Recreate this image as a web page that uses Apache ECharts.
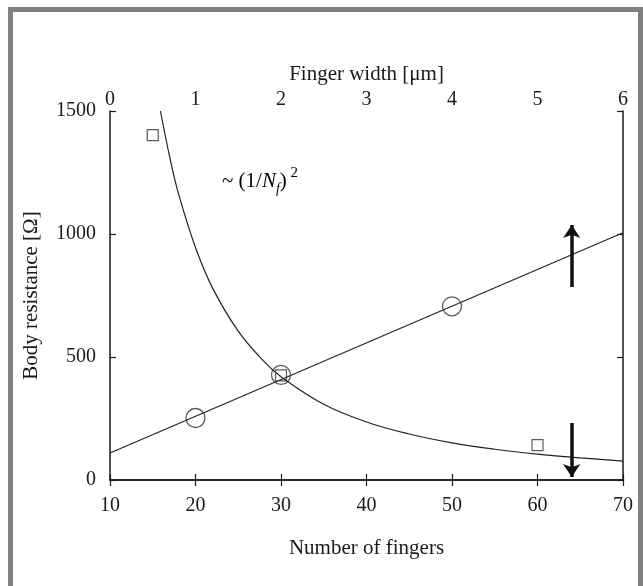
<!DOCTYPE html>
<html>
<head>
<meta charset="utf-8">
<script src="https://cdn.jsdelivr.net/npm/echarts@6/dist/echarts.min.js"></script>
<style>
html,body{margin:0;padding:0;background:#fff;}
#c{width:643px;height:586px;}
</style>
</head>
<body>
<div id="c"></div>
<script>
// ---- data ----
var fingerTicks = [10, 20, 30, 40, 50, 60, 70];
var widthTicks = [0, 1, 2, 3, 4, 5, 6];
var resistanceTicks = [0, 500, 1000, 1500];

// circles: measured vs finger width [um]
var circleWidth = [1, 2, 4];
var circleRes = [252, 427, 706];
// linear fit vs finger width
var lineWidth = [0, 6];
var lineRes = [110, 1005];

// squares: measured vs number of fingers
var squareFingers = [15, 30, 60];
var squareRes = [1402, 425, 142];
// ~(1/Nf)^2 curve vs number of fingers
var curveFingers = [15.9, 17, 18, 20, 22, 25, 28, 30, 35, 40, 45, 50, 55, 60, 65, 70];
var curveRes = [1500, 1310, 1165, 945, 780, 605, 482, 420, 308, 236, 187, 151, 125, 105, 90, 77];

// arrows (number of fingers, resistance)
var arrowUp = [[64, 785], [64, 1037]];
var arrowDown = [[64, 232], [64, 12]];

function zip(a, b) { return a.map(function (v, i) { return [v, b[i]]; }); }
function plain(v) { return String(v); }

var font = '"Liberation Serif", "Times New Roman", serif';
var axisColor = '#1a1a1a';

var chart = echarts.init(document.getElementById('c'), null, { renderer: 'canvas' });

var option = {
  backgroundColor: '#ffffff',
  animation: false,
  textStyle: { fontFamily: font, color: '#1a1a1a' },
  grid: { left: 110, right: 20, top: 111, bottom: 106, containLabel: false },
  xAxis: [
    {
      type: 'value', position: 'bottom', min: fingerTicks[0], max: fingerTicks[fingerTicks.length - 1], interval: 10,
      name: 'Number of fingers', nameLocation: 'middle', nameGap: 58,
      nameTextStyle: { fontFamily: font, fontSize: 21, color: '#1a1a1a' },
      axisLine: { show: true, lineStyle: { color: axisColor, width: 1.5 } },
      axisTick: { show: true, inside: true, length: 6, lineStyle: { color: axisColor, width: 1.2 } },
      axisLabel: { fontFamily: font, fontSize: 20, color: '#1a1a1a', margin: 16, formatter: plain },
      splitLine: { show: false }
    },
    {
      type: 'value', position: 'top', min: widthTicks[0], max: widthTicks[widthTicks.length - 1], interval: 1,
      name: 'Finger width [μm]', nameLocation: 'middle', nameGap: 24,
      nameTextStyle: { fontFamily: font, fontSize: 21, color: '#1a1a1a' },
      axisLine: { show: true, lineStyle: { color: axisColor, width: 1.5 } },
      axisTick: { show: true, inside: true, length: 6, lineStyle: { color: axisColor, width: 1.2 } },
      axisLabel: { fontFamily: font, fontSize: 20, color: '#1a1a1a', margin: 1, formatter: plain },
      splitLine: { show: false }
    }
  ],
  yAxis: [
    {
      type: 'value', position: 'left', min: resistanceTicks[0], max: resistanceTicks[resistanceTicks.length - 1], interval: 500,
      name: 'Body resistance [Ω]', nameLocation: 'middle', nameGap: 68, nameRotate: 90,
      nameTextStyle: { fontFamily: font, fontSize: 21, color: '#1a1a1a' },
      axisLine: { show: true, lineStyle: { color: axisColor, width: 1.5 } },
      axisTick: { show: true, inside: true, length: 6, lineStyle: { color: axisColor, width: 1.2 } },
      axisLabel: { fontFamily: font, fontSize: 20, color: '#1a1a1a', margin: 14, formatter: plain },
      splitLine: { show: false }
    },
    {
      type: 'value', position: 'right', min: resistanceTicks[0], max: resistanceTicks[resistanceTicks.length - 1], interval: 500,
      axisLine: { show: true, lineStyle: { color: axisColor, width: 1.5 } },
      axisTick: { show: true, inside: true, length: 6, lineStyle: { color: axisColor, width: 1.2 } },
      axisLabel: { show: false },
      splitLine: { show: false }
    }
  ],
  series: [
    {
      type: 'line', xAxisIndex: 1, yAxisIndex: 0, data: zip(lineWidth, lineRes),
      showSymbol: false, symbol: 'none', lineStyle: { color: '#222', width: 1.2 }, z: 2
    },
    {
      type: 'line', xAxisIndex: 0, yAxisIndex: 0, data: zip(curveFingers, curveRes),
      smooth: 0.4, showSymbol: false, symbol: 'none', lineStyle: { color: '#222', width: 1.2 }, z: 2
    },
    {
      type: 'scatter', xAxisIndex: 1, yAxisIndex: 0, data: zip(circleWidth, circleRes),
      symbol: 'circle', symbolSize: 19,
      itemStyle: { color: 'rgba(255,255,255,0)', borderColor: '#333', borderWidth: 1.3 }, z: 3
    },
    {
      type: 'scatter', xAxisIndex: 0, yAxisIndex: 0, data: zip(squareFingers, squareRes),
      symbol: 'rect', symbolSize: 11,
      itemStyle: { color: 'rgba(255,255,255,0)', borderColor: '#333', borderWidth: 1.2 }, z: 4
    },
    {
      type: 'lines', coordinateSystem: 'cartesian2d', xAxisIndex: 0, yAxisIndex: 0,
      symbol: ['none', 'arrow'], symbolSize: [11, 13],
      lineStyle: { color: '#111', width: 3.5, opacity: 1 },
      data: [{ coords: arrowUp }, { coords: arrowDown }], z: 5
    }
  ],
  graphic: [
    {
      type: 'rect', shape: { x: 10.5, y: 9.5, width: 630, height: 640 },
      style: { fill: 'none', stroke: '#808080', lineWidth: 5 }, silent: true, z: 100
    },
    {
      type: 'text', left: 222, top: 166,
      style: {
        text: '{n|~ (1/}{i|N}{s|f}{n|)}{p| 2}',
        rich: {
          n: { fontFamily: font, fontSize: 21, color: '#1a1a1a', verticalAlign: 'middle', lineHeight: 30 },
          i: { fontFamily: font, fontSize: 21, fontStyle: 'italic', color: '#1a1a1a', verticalAlign: 'middle', lineHeight: 30 },
          s: { fontFamily: font, fontSize: 14, fontStyle: 'italic', color: '#1a1a1a', verticalAlign: 'bottom', lineHeight: 30 },
          p: { fontFamily: font, fontSize: 15, color: '#1a1a1a', verticalAlign: 'top', lineHeight: 30 }
        }
      }
    }
  ]
};
chart.setOption(option);
</script>
</body>
</html>
